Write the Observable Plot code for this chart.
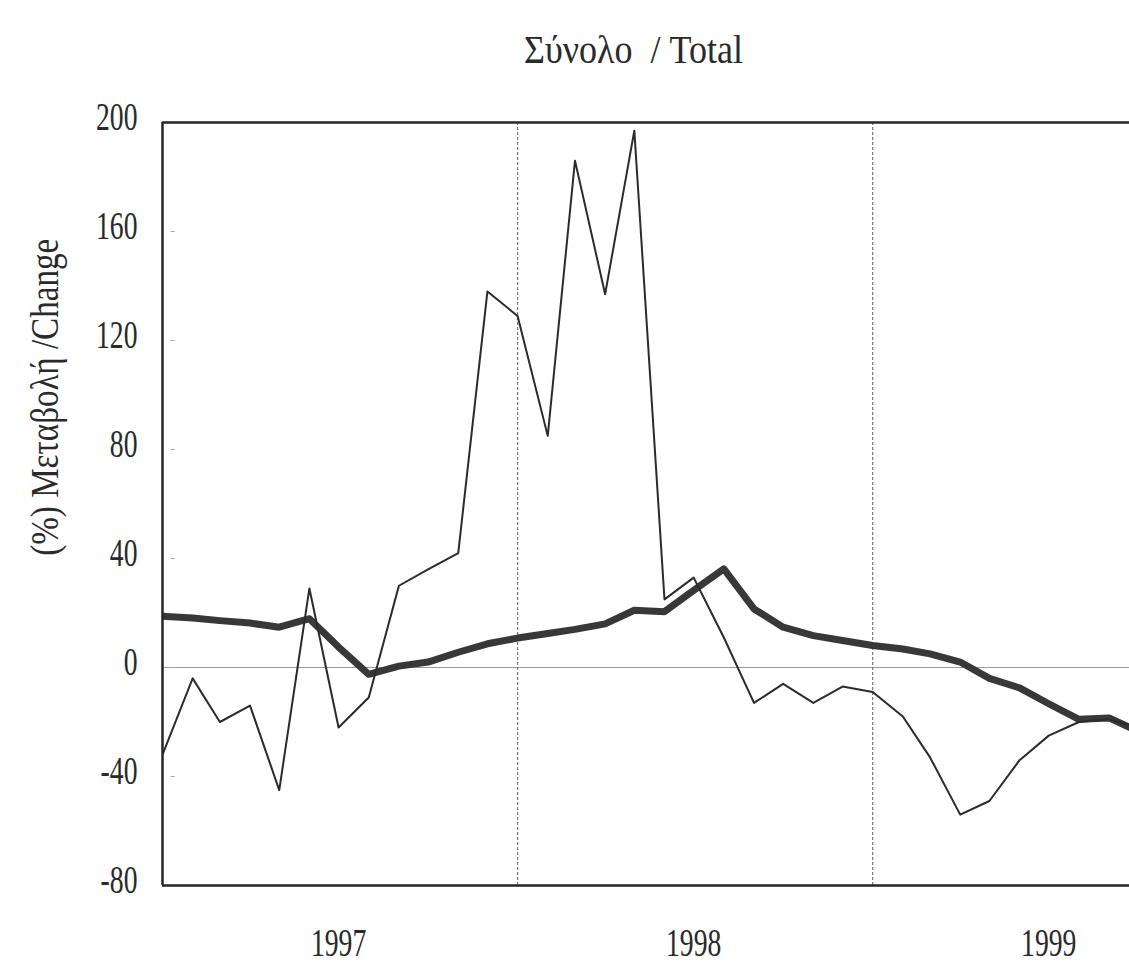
<!DOCTYPE html>
<html>
<head>
<meta charset="utf-8">
<script src="https://cdn.jsdelivr.net/npm/d3@7"></script>
<script src="https://cdn.jsdelivr.net/npm/@observablehq/plot@0.6"></script>
<style>
  html, body { margin: 0; padding: 0; background: #fff; }
  #wrap { position: relative; width: 1129px; height: 964px; overflow: hidden; }
  #title { position: relative; height: 80px; }
  #title span { position: absolute; top: 30px; left: 0; white-space: pre; font-family: "Liberation Serif", serif; font-size: 40px; line-height: 40px; color: #2a2a2a; transform-origin: 0 0; }
</style>
</head>
<body>
<div id="wrap">
  <div id="title"><span id="titleText"></span></div>
  <div id="chart"></div>
</div>
<script>
// ---- data ----
const months = [
  "1997-01","1997-02","1997-03","1997-04","1997-05","1997-06","1997-07","1997-08","1997-09","1997-10","1997-11","1997-12",
  "1998-01","1998-02","1998-03","1998-04","1998-05","1998-06","1998-07","1998-08","1998-09","1998-10","1998-11","1998-12",
  "1999-01","1999-02","1999-03","1999-04","1999-05","1999-06","1999-07","1999-08","1999-09","1999-10"
];
// thin line: monthly % change
const totalMonthly = [
  -32, -4, -20, -14, -45, 29, -22, -11, 30, 36, 42, 138,
  129, 85, 186, 137, 197, 25, 33, 11, -13, -6, -13, -7,
  -9, -18, -33, -54, -49, -34, -25, -20, -19, -22
];
// thick line: smoothed % change
const totalTrend = [
  18.8, 18.2, 17.2, 16.3, 14.8, 17.9, 7.5, -2.5, 0.5, 2, 5.6, 8.7,
  10.8, 12.5, 14, 16, 21, 20.5, 28.3, 36.2, 21.5, 14.8, 11.7, 9.9,
  8.1, 6.8, 5, 2, -4, -7.5, -13.3, -19, -18.5, -23.5
];
const yTicks = [-80, -40, 0, 40, 80, 120, 160, 200];
const yearLabels = ["1997", "1998", "1999"];
const gridYears = ["1998", "1999"];
const titleText = "Σύνολο  / Total";
const yLabel = "(%) Μεταβολή /Change";

// ---- build ----
const parseMonth = d3.utcParse("%Y-%m");
const parseDay = d3.utcParse("%Y-%m-%d");
const rows = months.map((m, i) => ({date: parseMonth(m), monthly: totalMonthly[i], trend: totalTrend[i]}));
const start = parseDay("1997-01-01");
const end = parseDay("1999-09-22");
const yearMid = yearLabels.map(y => parseDay(y + "-07-01"));
const gridDates = gridYears.map(y => parseDay(y + "-01-01"));

const chart = Plot.plot({
  width: 1129,
  height: 884,
  marginLeft: 162,
  marginRight: 0,
  marginTop: 42,
  marginBottom: 79,
  style: {fontFamily: "Liberation Serif, serif", background: "white", color: "#2a2a2a", overflow: "visible"},
  x: {type: "utc", domain: [start, end]},
  y: {domain: [-80, 200]},
  marks: [
    Plot.ruleY([0], {stroke: "#9a9a9a", strokeWidth: 1.2}),
    Plot.ruleX(gridDates, {stroke: "#777", strokeWidth: 1.2, strokeDasharray: "3,2"}),
    Plot.ruleY(yTicks.filter(t => t > -80 && t < 200), {
      x1: () => d3.utcDay.offset(start, 9), x2: () => d3.utcDay.offset(start, 13),
      stroke: "#aaa", strokeWidth: 1
    }),
    Plot.lineY(rows, {x: "date", y: "trend", stroke: "#383838", strokeWidth: 7, clip: true}),
    Plot.lineY(rows, {x: "date", y: "monthly", stroke: "#2b2b2b", strokeWidth: 2, clip: true}),
    Plot.ruleY([200, -80], {stroke: "#262626", strokeWidth: 2.5}),
    Plot.ruleX([start], {stroke: "#262626", strokeWidth: 2.5}),
    Plot.axisY({ticks: yTicks, tickFormat: d => String(d), tickSize: 0, tickPadding: 25, fontSize: 39, dy: -5, label: null}),
    Plot.axisX({ticks: yearMid, tickFormat: "%Y", tickSize: 0, tickPadding: 43, fontSize: 39, label: null}),
    Plot.text([yLabel], {frameAnchor: "left", y: () => 41, text: d => d, rotate: -90, dx: -117, fontSize: 40, fill: "#2a2a2a"})
  ]
});
document.getElementById("chart").appendChild(chart);

// condense tick labels horizontally (reference uses a narrow serif)
function condense(el, s) {
  const x = +(el.getAttribute("x") || 0);
  const t = el.getAttribute("transform") || "";
  el.setAttribute("transform", `${t} translate(${x},0) scale(${s},1) translate(${-x},0)`);
}
chart.querySelectorAll('g[aria-label="y-axis tick label"] text, g[aria-label="x-axis tick label"] text')
  .forEach(el => condense(el, 0.71));
chart.querySelectorAll('g[aria-label="text"] text').forEach(el => {
  el.setAttribute("textLength", "317");
  el.setAttribute("lengthAdjust", "spacingAndGlyphs");
});

// title
const span = document.getElementById("titleText");
span.textContent = titleText;
const w = span.getBoundingClientRect().width;
const s = 219 / w;
span.style.transform = `scaleX(${s})`;
span.style.left = (633.5 - 219 / 2) + "px";
</script>
</body>
</html>
